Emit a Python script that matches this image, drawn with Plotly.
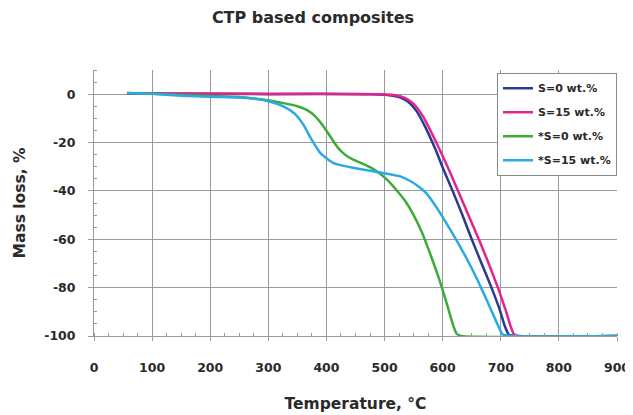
import plotly.graph_objects as go

# ---- data ----
series_names = ["S=0 wt.%", "S=15 wt.%", "*S=0 wt.%", "*S=15 wt.%"]
series_colors = ["#2b3a8f", "#e0258c", "#3daa3a", "#2aaae2"]

t_s0 = [57, 300, 480, 505, 525, 540, 555, 570, 587, 602, 618, 634, 650, 667, 684, 698, 707, 714, 725, 900]
m_s0 = [0.3, 0, 0, -0.3, -1.2, -3, -7, -13.5, -22.5, -31.5, -40.5, -50, -60, -70, -80, -89, -96, -99.5, -100, -100]

t_s15 = [57, 300, 490, 515, 535, 550, 567, 582, 598, 614, 630, 647, 664, 680, 695, 708, 717, 723, 733, 900]
m_s15 = [0.4, 0.2, 0, -0.3, -1.5, -4, -9.5, -16.5, -24.5, -33, -42, -51.5, -61, -70.5, -80, -89, -96, -99.5, -100, -100]

t_xs0 = [57, 100, 150, 200, 250, 290, 326, 350, 366, 380, 395, 408, 420, 432, 445, 460, 475, 490, 505,
         520, 535, 550, 565, 580, 592, 600, 610, 618, 624, 632, 900]
m_xs0 = [0.5, 0.2, -0.3, -0.8, -1.2, -2.2, -3.7, -5, -6.5, -9, -13.4, -18, -22.2, -25, -27, -28.5, -30.2, -32.5, -35.5,
         -39.5, -44, -50, -57.5, -67, -75, -81, -89, -95.5, -99, -100, -100]

t_xs15 = [57, 100, 150, 200, 250, 280, 305, 326, 345, 360, 375, 390, 412, 441, 470, 500, 527, 545, 560,
          572, 590, 613, 630, 650, 667, 683, 695, 703, 715, 900]
m_xs15 = [0.5, 0.2, -0.6, -1.1, -1.4, -2.0, -3.2, -5, -8, -12.5, -19, -24.5, -28.5, -30.2, -31.5, -32.7, -34, -36, -38.5,
          -41, -47, -56, -63, -72, -80.5, -89, -95.5, -99.3, -100, -100]

x_tickvals = [0, 100, 200, 300, 400, 500, 600, 700, 800, 900]
y_tickvals = [0, -20, -40, -60, -80, -100]

series_t = [t_s0, t_s15, t_xs0, t_xs15]
series_m = [m_s0, m_s15, m_xs0, m_xs15]

FONT = "DejaVu Sans"
TXT = "#2a2a2a"
GRID = "#9a9a9a"

fig = go.Figure()
for i, (name, color, t, m) in enumerate(zip(series_names, series_colors, series_t, series_m)):
    fig.add_trace(go.Scatter(
        x=t, y=m, mode="lines", name="<b>" + name + "</b>",
        line=dict(color=color, width=2.5, shape="spline", smoothing=0.5),
        legendgroup="g%d" % i,
    ))

# the page adds an 8px body margin, so the figure is sized/positioned to compensate
fig.update_layout(
    width=625, height=407,
    margin=dict(l=86, r=16, t=62, b=79, autoexpand=False),
    paper_bgcolor="white", plot_bgcolor="white",
    title=dict(text="<b>CTP based composites</b>", x=0.488, xref="container", xanchor="center",
               y=0.978, yref="container", yanchor="middle",
               font=dict(family=FONT, size=16, color=TXT)),
    showlegend=True,
    legend=dict(x=1.0, xanchor="right", y=0.99, yanchor="top",
                bgcolor="white", bordercolor="#8a8a8a", borderwidth=1,
                font=dict(family=FONT, size=11, color=TXT),
                traceorder="grouped", tracegroupgap=5, itemwidth=30),
    font=dict(family=FONT, color=TXT),
)

fig.update_xaxes(
    range=[0, 900], tickvals=x_tickvals, ticktext=["<b>%d</b>" % v for v in x_tickvals],
    showgrid=True, gridcolor=GRID, gridwidth=1,
    showline=True, linecolor=GRID, linewidth=1,
    ticks="outside", ticklen=4, tickcolor=GRID, ticklabelstandoff=16,
    tickfont=dict(family=FONT, size=12.5, color=TXT),
    minor=dict(dtick=25, tick0=0, ticks="inside", ticklen=3, tickcolor=GRID, showgrid=False),
    title=dict(text="<b>Temperature, °C</b>", font=dict(family=FONT, size=15.5, color=TXT), standoff=24),
    zeroline=False, automargin=False,
)
fig.update_yaxes(
    range=[-100, 10], tickvals=y_tickvals, ticktext=["<b>%d</b>" % v for v in y_tickvals],
    showgrid=True, gridcolor=GRID, gridwidth=1,
    showline=True, linecolor=GRID, linewidth=1,
    ticks="outside", ticklen=5, tickcolor=GRID, ticklabelstandoff=10,
    tickfont=dict(family=FONT, size=12.5, color=TXT),
    minor=dict(dtick=5, tick0=0, ticks="inside", ticklen=3, tickcolor=GRID, showgrid=False),
    title=dict(text="<b>Mass loss, %</b>", font=dict(family=FONT, size=15.5, color=TXT), standoff=14),
    zeroline=False, automargin=False,
)

fig.write_html("out.html")
